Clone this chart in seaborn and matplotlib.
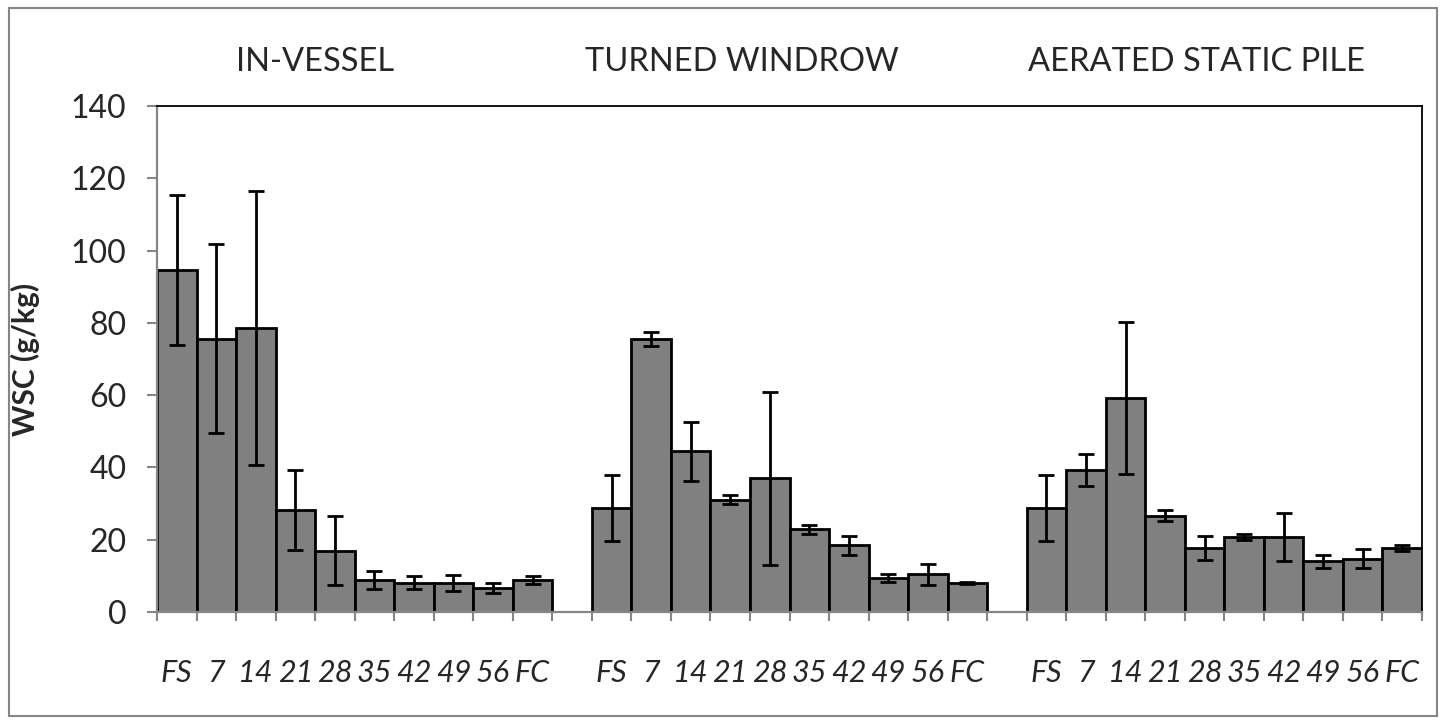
import matplotlib
matplotlib.use("Agg")
import matplotlib.pyplot as plt
from matplotlib.patches import Rectangle
from matplotlib.ticker import FixedLocator
import seaborn as sns
import pandas as pd

# ---------------- data ----------------
days = ["FS", "7", "14", "21", "28", "35", "42", "49", "56", "FC"]
groups = ["IN-VESSEL", "TURNED WINDROW", "AERATED STATIC PILE"]

in_vessel_mean = [94.7, 75.6, 78.6, 28.2, 17.0, 8.9, 8.1, 8.1, 6.6, 8.9]
in_vessel_err = [20.7, 26.2, 38.0, 11.1, 9.6, 2.5, 1.8, 2.2, 1.4, 1.1]

windrow_mean = [28.8, 75.5, 44.5, 31.1, 37.0, 22.9, 18.4, 9.5, 10.4, 8.0]
windrow_err = [9.2, 1.9, 8.2, 1.2, 24.0, 1.2, 2.6, 1.1, 3.0, 0.3]

static_pile_mean = [28.8, 39.3, 59.2, 26.6, 17.7, 20.7, 20.7, 14.0, 14.7, 17.7]
static_pile_err = [9.2, 4.4, 21.1, 1.5, 3.3, 0.8, 6.6, 1.9, 2.6, 0.7]

y_ticks = [0, 20, 40, 60, 80, 100, 120, 140]

means = [in_vessel_mean, windrow_mean, static_pile_mean]
errs = [in_vessel_err, windrow_err, static_pile_err]

rows = []
order = []
for gi, g in enumerate(groups):
    for d, m, e in zip(days, means[gi], errs[gi]):
        key = f"{g}|{d}"
        rows.append({"key": key, "group": g, "day": d, "wsc": m, "err": e})
        order.append(key)
    if gi < len(groups) - 1:
        order.append(f"gap{gi}")
df = pd.DataFrame(rows)

# ---------------- style ----------------
sns.set_style("white")
plt.rcParams["font.family"] = ["Lato", "DejaVu Sans"]

W, H = 1445, 724
fig = plt.figure(figsize=(W / 100, H / 100), dpi=100)
ax = fig.add_axes([157 / W, 1 - 612 / H, (1422 - 157) / W, (612 - 106) / H])

sns.barplot(data=df, x="key", y="wsc", order=order, color="#808080",
            saturation=1, edgecolor="black", linewidth=2.0, width=1.0,
            errorbar=None, ax=ax)

pos = [order.index(k) for k in df["key"]]
ax.errorbar(pos, df["wsc"], yerr=df["err"], fmt="none", ecolor="black",
            elinewidth=2.0, capsize=5.5, capthick=2.0, zorder=5)

ax.set_xlim(-0.5, len(order) - 0.5)
ax.set_ylim(0, 140)
ax.set_yticks(y_ticks)
ax.set_yticklabels([str(v) for v in y_ticks])

# x labels at bar centers, ticks at slot boundaries
ax.xaxis.set_major_locator(FixedLocator(pos))
ax.set_xticklabels(list(df["day"]), fontstyle="italic", fontsize=22)
ax.xaxis.set_minor_locator(FixedLocator([i - 0.5 for i in range(len(order) + 1)]))
ax.tick_params(axis="x", which="major", length=0, pad=34)
ax.tick_params(axis="x", which="minor", length=6.5, width=1.5, color="#868686",
               direction="out", bottom=True)
ax.tick_params(axis="y", which="major", length=7, width=1.5, color="#868686",
               direction="out", left=True, labelsize=23, pad=15)

ax.set_xlabel("")
ax.set_ylabel("WSC (g/kg)", fontweight="bold", fontsize=21.5)
ax.yaxis.set_label_coords((40 - 157) / (1422 - 157), 0.5)

for s in ["top", "right"]:
    ax.spines[s].set_color("black")
    ax.spines[s].set_linewidth(1.3)
for s in ["left", "bottom"]:
    ax.spines[s].set_color("#868686")
    ax.spines[s].set_linewidth(1.6)
for sp in ax.spines.values():
    sp.set_zorder(6)
    sp.set_visible(True)

# group titles
title_x = [315, 742, 1196]
for g, x in zip(groups, title_x):
    fig.text(x / W, 1 - 62 / H, g, ha="center", va="center", fontsize=23.5)

# outer chart border
fig.patches.append(Rectangle((9 / W, 1 - 716 / H), (1437 - 9) / W, (716 - 8) / H,
                             transform=fig.transFigure, fill=False,
                             edgecolor="#868686", linewidth=1.5))

fig.savefig("out.png", dpi=100)
